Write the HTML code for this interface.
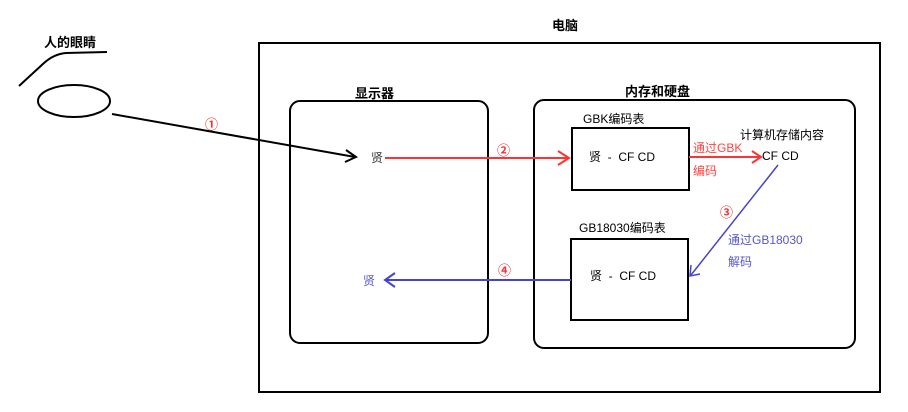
<!DOCTYPE html>
<html><head><meta charset="utf-8"><style>
body{margin:0;background:#fff;}
svg{display:block;}
text{font-family:"Liberation Sans","Noto Sans CJK SC",sans-serif;}
</style></head><body>
<svg width="908" height="412" viewBox="0 0 908 412" xmlns="http://www.w3.org/2000/svg">
<rect x="0" y="0" width="908" height="412" fill="#fff"/>
<text x="44" y="47" font-size="13" font-weight="bold" fill="#000">人的眼睛</text>
<path d="M19 86 L44 63 Q54 54 66 53 L107 52" fill="none" stroke="#000" stroke-width="2"/>
<ellipse cx="74" cy="101" rx="36" ry="16" fill="none" stroke="#000" stroke-width="2"/>
<text x="552" y="30" font-size="13" font-weight="bold" fill="#000">电脑</text>
<rect x="259" y="43" width="621" height="349" fill="none" stroke="#000" stroke-width="2"/>
<text x="355" y="98" font-size="13" font-weight="bold" fill="#000">显示器</text>
<rect x="290" y="101" width="198" height="242" rx="10" fill="none" stroke="#000" stroke-width="2"/>
<text x="625" y="96" font-size="13" font-weight="bold" fill="#000">内存和硬盘</text>
<rect x="534" y="100" width="321" height="248" rx="10" fill="none" stroke="#000" stroke-width="2"/>
<text x="583" y="123" font-size="12" fill="#000">GBK编码表</text>
<rect x="572" y="128" width="117" height="62" fill="none" stroke="#000" stroke-width="2"/>
<text x="589" y="161" font-size="12" fill="#000" xml:space="preserve">贤  -  CF CD</text>
<text x="579" y="232" font-size="12" fill="#000">GB18030编码表</text>
<rect x="571" y="239" width="117" height="81" fill="none" stroke="#000" stroke-width="2"/>
<text x="590" y="280" font-size="12" fill="#000" xml:space="preserve">贤  -  CF CD</text>
<line x1="112" y1="114" x2="355" y2="157" stroke="#000" stroke-width="2"/>
<path d="M346 150 L356 157 L345 162" fill="none" stroke="#000" stroke-width="2"/>
<text x="205" y="129" font-size="13" font-weight="bold" fill="#e33">①</text>
<text x="371" y="162" font-size="12" fill="#333">贤</text>
<line x1="385" y1="158" x2="568" y2="158" stroke="#f33" stroke-width="2"/>
<path d="M558 151 L569 158 L558 165" fill="none" stroke="#f33" stroke-width="2"/>
<text x="497" y="155" font-size="13" font-weight="bold" fill="#e33">②</text>
<line x1="689" y1="157" x2="760" y2="157" stroke="#f33" stroke-width="2"/>
<path d="M752 151 L761 157 L752 163" fill="none" stroke="#f33" stroke-width="2"/>
<text x="693" y="152" font-size="12" fill="#f44">通过GBK</text>
<text x="693" y="175" font-size="12" fill="#f44">编码</text>
<text x="740" y="139" font-size="12" fill="#000">计算机存储内容</text>
<text x="762" y="160" font-size="12" fill="#000">CF CD</text>
<line x1="778" y1="165" x2="691" y2="275" stroke="#44c" stroke-width="1.5"/>
<path d="M691 265 L690 276 L700 274" fill="none" stroke="#44c" stroke-width="1.5"/>
<text x="720" y="217" font-size="13" font-weight="bold" fill="#e33">③</text>
<text x="728" y="244" font-size="12" fill="#55c">通过GB18030</text>
<text x="728" y="266" font-size="12" fill="#55c">解码</text>
<line x1="571" y1="280" x2="385" y2="280" stroke="#44c" stroke-width="2"/>
<path d="M395 273 L385 280 L395 287" fill="none" stroke="#44c" stroke-width="2"/>
<text x="498" y="275" font-size="13" font-weight="bold" fill="#e33">④</text>
<text x="363" y="285" font-size="12" fill="#55c">贤</text>
</svg>
</body></html>
